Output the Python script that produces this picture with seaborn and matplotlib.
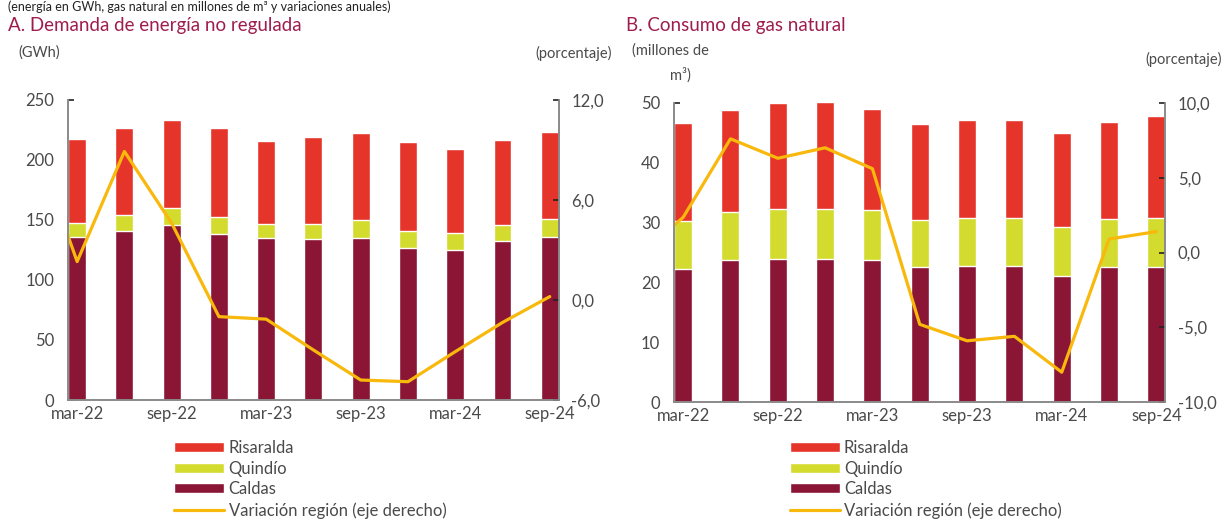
import numpy as np
import pandas as pd
import matplotlib
matplotlib.use('Agg')
import matplotlib.pyplot as plt
import seaborn as sns
from matplotlib.ticker import FuncFormatter

# quarters shown as bars
quarters = ['mar-22', 'jun-22', 'sep-22', 'dec-22', 'mar-23', 'jun-23',
            'sep-23', 'dec-23', 'mar-24', 'jun-24', 'sep-24']
# the line starts one quarter earlier (clipped at the axis edge)
line_quarters = ['dec-21'] + quarters

# A. Demanda de energía no regulada (GWh)
energia_caldas = [135.4, 140.4, 145.9, 138.2, 134.9, 133.8, 135.2, 126.4, 125.3, 132.7, 136.0]
energia_quindio = [12.4, 13.7, 13.7, 14.3, 11.8, 12.9, 14.8, 14.3, 14.0, 13.2, 15.1]
energia_risaralda = [69.8, 72.0, 73.9, 73.6, 69.0, 72.0, 72.0, 73.9, 69.8, 70.9, 72.3]
energia_var = [10.3, 2.3, 8.9, 4.6, -1.0, -1.15, -3.0, -4.8, -4.9, -3.1, -1.35, 0.2]

# B. Consumo de gas natural (millones de m3)
gas_caldas = [22.2, 23.8, 24.0, 24.0, 23.8, 22.5, 22.7, 22.7, 21.0, 22.5, 22.5]
gas_quindio = [8.1, 8.0, 8.2, 8.2, 8.3, 7.9, 8.1, 8.1, 8.3, 8.1, 8.3]
gas_risaralda = [16.3, 17.0, 17.7, 17.9, 16.9, 16.1, 16.3, 16.3, 15.7, 16.2, 17.0]
gas_var = [-0.4, 2.35, 7.6, 6.3, 7.0, 5.6, -4.8, -5.9, -5.6, -8.0, 0.9, 1.4]

C_RIS = '#e5352a'
C_QUI = '#d3db2f'
C_CAL = '#8b1535'
C_VAR = '#f8b80c'
C_TITLE = '#9e1d4d'
C_TXT = '#4a4a4a'

sns.set_style('white')
plt.rcParams['font.family'] = ['Lato', 'DejaVu Sans']

BAR_W = 0.38
comma = FuncFormatter(lambda v, p: f'{v:.1f}'.replace('.', ','))


def stacked_panel(ax, caldas, quindio, risaralda, var, ylim, yticks, y2lim, y2ticks):
    df = pd.DataFrame({'q': quarters, 'cal': caldas, 'qui': quindio, 'ris': risaralda})
    df['tot'] = df['cal'] + df['qui'] + df['ris']
    df['cq'] = df['cal'] + df['qui']

    # overlapping bars give the stacked look
    sns.barplot(data=df, x='q', y='tot', color=C_RIS, width=BAR_W, saturation=1,
                label='Risaralda', ax=ax)
    sns.barplot(data=df, x='q', y='cq', color=C_QUI, width=BAR_W, saturation=1,
                label='Quindío', ax=ax)
    sns.barplot(data=df, x='q', y='cal', color=C_CAL, width=BAR_W, saturation=1,
                label='Caldas', ax=ax)
    if ax.get_legend() is not None:
        ax.get_legend().remove()

    ax2 = ax.twinx()
    sns.lineplot(x=np.arange(-1, len(quarters)), y=var, color=C_VAR, linewidth=2.3,
                 label='Variación región (eje derecho)', ax=ax2, legend=False)

    ax.set_xlim(-BAR_W / 2, len(quarters) - 1 + BAR_W / 2)
    ax.set_ylim(*ylim)
    ax.set_yticks(yticks)
    ax2.set_ylim(*y2lim)
    ax2.set_yticks(y2ticks)
    ax2.yaxis.set_major_formatter(comma)
    ax.set_xticks(range(0, len(quarters), 2))
    ax.set_xticklabels(quarters[::2])
    ax.set_xlabel('')
    ax.set_ylabel('')
    ax2.set_ylabel('')

    for a in (ax, ax2):
        a.spines['top'].set_visible(False)
        for s in ('left', 'right', 'bottom'):
            a.spines[s].set_color('#8a8a8a')
            a.spines[s].set_linewidth(1.2)
        a.tick_params(direction='in', length=4, width=1.2, color='#222222',
                      labelsize=12, labelcolor=C_TXT)
    ax.tick_params(axis='y', pad=10)
    ax.tick_params(axis='x', pad=4)
    ax2.tick_params(axis='y', pad=9)
    return ax2


fig = plt.figure(figsize=(12.28, 5.25), dpi=100)
axA = fig.add_axes([0.0555, 0.238, 0.3995, 0.572])
axB = fig.add_axes([0.549, 0.234, 0.400, 0.570])

axA2 = stacked_panel(axA, energia_caldas, energia_quindio, energia_risaralda, energia_var,
                     (0, 250), range(0, 251, 50), (-6, 12), [-6, 0, 6, 12])
axB2 = stacked_panel(axB, gas_caldas, gas_quindio, gas_risaralda, gas_var,
                     (0, 50), range(0, 51, 10), (-10, 10), [-10, -5, 0, 5, 10])

# texts
fig.text(0.0065, 0.999, '(energía en GWh, gas natural en millones de m³ y variaciones anuales)',
         fontsize=9, color='#222222', va='top')
fig.text(0.0065, 0.951, 'A. Demanda de energía no regulada', fontsize=13.5, color=C_TITLE, va='center')
fig.text(0.510, 0.951, 'B. Consumo de gas natural', fontsize=13.5, color=C_TITLE, va='center')
fig.text(0.015, 0.899, '(GWh)', fontsize=10.5, color=C_TXT, va='center')
fig.text(0.498, 0.899, '(porcentaje)', fontsize=10.5, color=C_TXT, va='center', ha='right')
fig.text(0.515, 0.903, '(millones de', fontsize=10.5, color=C_TXT, va='center')
fig.text(0.554, 0.857, 'm³)', fontsize=10.5, color=C_TXT, va='center', ha='center')
fig.text(0.995, 0.886, '(porcentaje)', fontsize=10.5, color=C_TXT, va='center', ha='right')

# legends
for ax, ax2, x0 in ((axA, axA2, 0.142), (axB, axB2, 0.643)):
    h1, l1 = ax.get_legend_handles_labels()
    h2, l2 = ax2.get_legend_handles_labels()
    fig.legend(h1 + h2, l1 + l2, loc='upper left', bbox_to_anchor=(x0, 0.162),
               frameon=False, fontsize=12, labelcolor=C_TXT, handlelength=3.0,
               handleheight=0.55, handletextpad=0.25, labelspacing=0.28,
               borderpad=0, borderaxespad=0)

fig.savefig('out.png', dpi=100)
